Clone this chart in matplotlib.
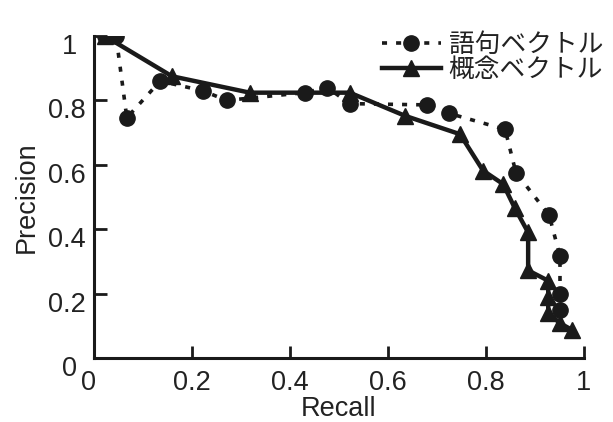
import matplotlib
matplotlib.use("Agg")
import matplotlib.pyplot as plt
import matplotlib.transforms as mtransforms

plt.rcParams['font.family'] = ['Liberation Sans', 'Noto Sans CJK JP', 'DejaVu Sans']

# 語句ベクトル (dotted, circles)
word_recall = [0.022, 0.045, 0.067, 0.135, 0.222, 0.271, 0.43, 0.476, 0.522,
               0.68, 0.724, 0.839, 0.861, 0.929, 0.951, 0.951, 0.951]
word_precision = [1.0, 1.0, 0.746, 0.86, 0.83, 0.80, 0.824, 0.84, 0.79,
                  0.786, 0.76, 0.71, 0.576, 0.443, 0.316, 0.2, 0.149]

# 概念ベクトル (solid, triangles)
concept_recall = [0.022, 0.159, 0.318, 0.522, 0.635, 0.747, 0.794, 0.835, 0.859,
                  0.886, 0.886, 0.927, 0.927, 0.927, 0.951, 0.976]
concept_precision = [1.0, 0.875, 0.824, 0.824, 0.752, 0.695, 0.582, 0.54, 0.465,
                     0.39, 0.272, 0.24, 0.19, 0.14, 0.108, 0.087]

labels = ["語句ベクトル", "概念ベクトル"]
ticks = [0, 0.2, 0.4, 0.6, 0.8, 1]
tick_labels = ["0", "0.2", "0.4", "0.6", "0.8", "1"]

fig = plt.figure(figsize=(6.13, 4.22), dpi=100)
ax = fig.add_axes([94 / 613, 1 - 358 / 422, 490 / 613, 322 / 422])

ax.plot(word_recall, word_precision, color='#1a1a1a', linestyle=(0, (1.4, 2.5)),
        linewidth=2.6, marker='o', markersize=11, label=labels[0])
ax.plot(concept_recall, concept_precision, color='#1a1a1a', linestyle='-',
        linewidth=3.2, marker='^', markersize=11, label=labels[1])

ax.set_xlim(0, 1)
ax.set_ylim(0, 1)
ax.set_xticks(ticks)
ax.set_xticklabels(tick_labels)
ax.set_yticks(ticks)
ax.set_yticklabels(tick_labels)

for side in ['top', 'right']:
    ax.spines[side].set_visible(False)
for side in ['left', 'bottom']:
    ax.spines[side].set_linewidth(2.2)
    ax.spines[side].set_color('#1a1a1a')

ax.tick_params(direction='in', length=9, width=2, color='#1a1a1a',
               labelsize=19.5, labelcolor='#222222')
ax.tick_params(axis='x', pad=9)
ax.tick_params(axis='y', pad=6)

# y目盛ラベルは少し下にずれている（整数の「0」「1」はさらに左）
for lab in ax.get_yticklabels():
    dx = -9 / 100 if lab.get_text() in ("0", "1") else 0
    lab.set_transform(lab.get_transform() +
                      mtransforms.ScaledTranslation(dx, -8 / 100, fig.dpi_scale_trans))
# x軸の「0」は少し左
xlab0 = ax.get_xticklabels()[0]
xlab0.set_transform(xlab0.get_transform() +
                    mtransforms.ScaledTranslation(-5 / 100, 0, fig.dpi_scale_trans))

ax.set_xlabel("Recall", fontsize=19.5, color='#222222', labelpad=0)
ax.set_ylabel("Precision", fontsize=19.5, color='#222222', labelpad=6)

leg = fig.legend(loc='upper right', bbox_to_anchor=(603 / 613, 1 - 32 / 422),
                 frameon=False, prop={'family': ['Noto Sans CJK JP'], 'size': 18.5},
                 handlelength=2.3, handletextpad=0.3, labelspacing=-0.05,
                 borderaxespad=0, borderpad=0)
for t in leg.get_texts():
    t.set_color('#222222')

fig.savefig("out.png", dpi=100)
